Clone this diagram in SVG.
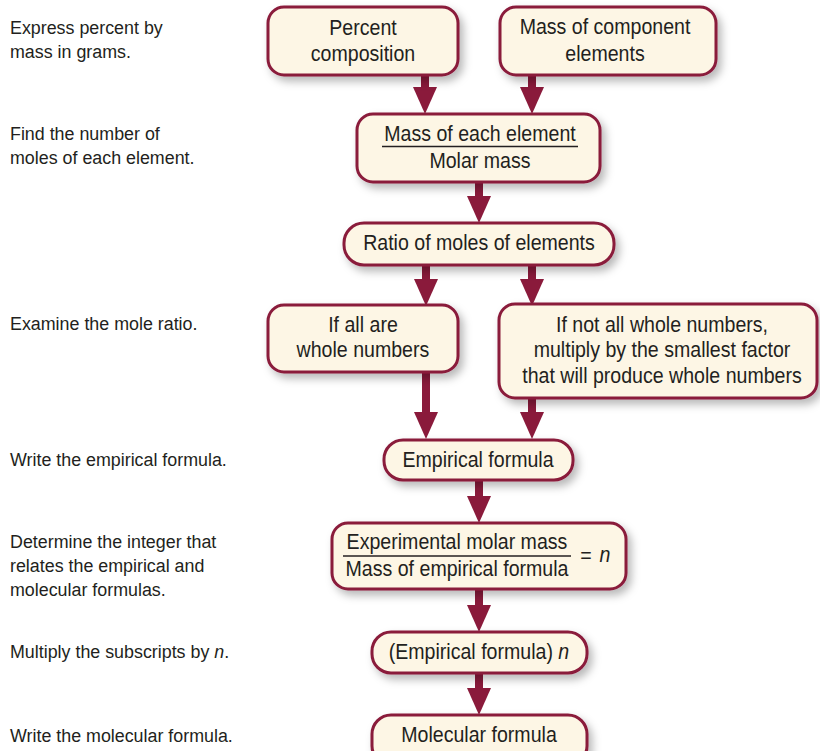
<svg xmlns="http://www.w3.org/2000/svg" width="820" height="751" viewBox="0 0 820 751">
<style>
.lbl{font-family:"Liberation Sans",Arial,sans-serif;font-size:19px;fill:#231f20;transform-box:fill-box;transform-origin:left center;transform:scaleX(0.94)}
.nt{font-family:"Liberation Sans",Arial,sans-serif;font-size:22px;fill:#231f20;text-anchor:middle;transform-box:fill-box;transform-origin:center;transform:scaleX(0.89)}
.box{fill:#fdf6e5;stroke:#8a1a3b;stroke-width:3;filter:url(#sh)}
.conn{stroke:#8a1a3b;stroke-width:8;fill:none;marker-end:url(#ah)}
.frac{stroke:#231f20;stroke-width:1.4}
.it{font-style:italic}
</style>
<defs>
<filter id="sh" x="-10%" y="-20%" width="130%" height="160%">
<feDropShadow dx="4" dy="5" stdDeviation="4" flood-color="#000" flood-opacity="0.28"/>
</filter>
<marker id="ah" viewBox="0 0 27 24" refX="0" refY="12" markerWidth="27" markerHeight="24" markerUnits="userSpaceOnUse" orient="auto">
<path d="M0,0 L27,12 L0,24 z" fill="#8a1a3b"/>
</marker>
</defs>
<rect width="820" height="751" fill="#ffffff"/>
<g id="labels">
<text class="lbl" x="10" y="34">Express percent by</text>
<text class="lbl" x="10" y="58">mass in grams.</text>
<text class="lbl" x="10" y="140">Find the number of</text>
<text class="lbl" x="10" y="164">moles of each element.</text>
<text class="lbl" x="10" y="330">Examine the mole ratio.</text>
<text class="lbl" x="10" y="466">Write the empirical formula.</text>
<text class="lbl" x="10" y="548">Determine the integer that</text>
<text class="lbl" x="10" y="572">relates the empirical and</text>
<text class="lbl" x="10" y="596">molecular formulas.</text>
<text class="lbl" x="10" y="658">Multiply the subscripts by <tspan class="it">n</tspan>.</text>
<text class="lbl" x="10" y="742">Write the molecular formula.</text>
</g>
<g id="connectors">
<line class="conn" x1="425" y1="75" x2="425" y2="87"/>
<line class="conn" x1="532" y1="75" x2="532" y2="87"/>
<line class="conn" x1="479" y1="182" x2="479" y2="196"/>
<line class="conn" x1="426" y1="265" x2="426" y2="279"/>
<line class="conn" x1="532" y1="265" x2="532" y2="279"/>
<line class="conn" x1="426" y1="372" x2="426" y2="412"/>
<line class="conn" x1="532" y1="398" x2="532" y2="412"/>
<line class="conn" x1="479" y1="480" x2="479" y2="496"/>
<line class="conn" x1="479" y1="589" x2="479" y2="605"/>
<line class="conn" x1="479" y1="673" x2="479" y2="688"/>
</g>
<g id="percent">
<rect class="box" x="268" y="7" width="190" height="68" rx="16"/>
<text class="nt" x="363" y="35">Percent</text>
<text class="nt" x="363" y="61">composition</text>
</g>
<g id="mass-component">
<rect class="box" x="500" y="7" width="216" height="68" rx="16"/>
<text class="nt" x="605" y="34">Mass of component</text>
<text class="nt" x="605" y="61">elements</text>
</g>
<g id="moles">
<rect class="box" x="357" y="114" width="243" height="68" rx="16"/>
<text class="nt" x="480" y="141">Mass of each element</text>
<line class="frac" x1="382" y1="146.5" x2="578" y2="146.5"/>
<text class="nt" x="480" y="168">Molar mass</text>
</g>
<g id="ratio">
<rect class="box" x="344" y="223" width="270" height="42" rx="20"/>
<text class="nt" x="479" y="250">Ratio of moles of elements</text>
</g>
<g id="whole">
<rect class="box" x="268" y="305" width="190" height="67" rx="16"/>
<text class="nt" x="363" y="332">If all are</text>
<text class="nt" x="363" y="357">whole numbers</text>
</g>
<g id="notwhole">
<rect class="box" x="499" y="304" width="318" height="94" rx="16"/>
<text class="nt" x="662" y="332">If not all whole numbers,</text>
<text class="nt" x="662" y="357">multiply by the smallest factor</text>
<text class="nt" x="662" y="383">that will produce whole numbers</text>
</g>
<g id="empirical">
<rect class="box" x="384" y="440" width="189" height="40" rx="19"/>
<text class="nt" x="478" y="467">Empirical formula</text>
</g>
<g id="integer">
<rect class="box" x="332" y="523" width="294" height="66" rx="16"/>
<text class="nt" x="457" y="549">Experimental molar mass</text>
<line class="frac" x1="343" y1="556" x2="571" y2="556"/>
<text class="nt" x="457" y="576">Mass of empirical formula</text>
<text class="nt" x="586" y="563">=</text>
<text class="nt it" x="605" y="562">n</text>
</g>
<g id="multiply">
<rect class="box" x="372" y="632" width="215" height="41" rx="19"/>
<text class="nt" x="479" y="659">(Empirical formula) <tspan class="it">n</tspan></text>
</g>
<g id="molecular">
<rect class="box" x="372" y="715" width="215" height="50" rx="19"/>
<text class="nt" x="479" y="742">Molecular formula</text>
</g>
</svg>
